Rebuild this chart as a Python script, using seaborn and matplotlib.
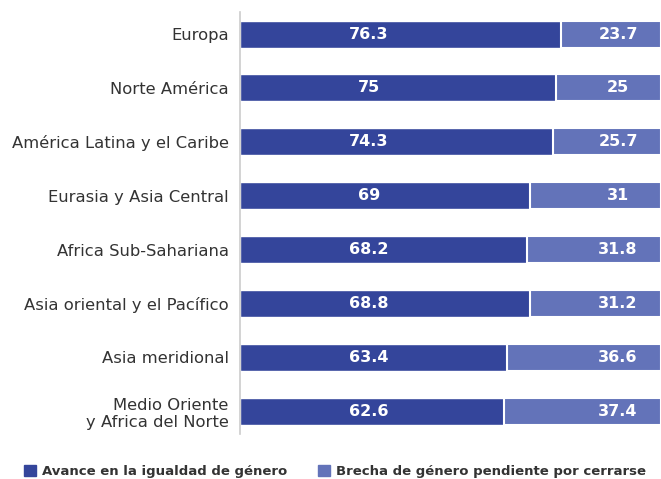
import numpy as np
import pandas as pd
import seaborn as sns
import matplotlib.pyplot as plt
from matplotlib.patches import Patch

regions = ["Europa", "Norte América", "América Latina y el Caribe",
           "Eurasia y Asia Central", "Africa Sub-Sahariana",
           "Asia oriental y el Pacífico", "Asia meridional",
           "Medio Oriente\ny Africa del Norte"]
avance = [76.3, 75, 74.3, 69, 68.2, 68.8, 63.4, 62.6]
brecha = [23.7, 25, 25.7, 31, 31.8, 31.2, 36.6, 37.4]

dark = "#34459b"
light = "#6373b9"

sns.set_style("white")
plt.rcParams['font.family'] = ['DejaVu Sans']

df = pd.DataFrame({"region": regions, "avance": avance, "brecha": brecha})

fig = plt.figure(figsize=(6.61, 4.79), dpi=100)
ax = fig.add_axes([0.363, 0.094, 0.637, 0.881])

sns.barplot(data=df, y="region", x="avance", color=dark, orient="h",
            width=0.5, ax=ax, saturation=1)
ax.barh(np.arange(len(regions)), df["brecha"], left=df["avance"],
        height=0.5, color=light, edgecolor="white", linewidth=1.5)

# value labels sit at fixed columns in the original
for i, (a, b) in enumerate(zip(avance, brecha)):
    ax.text(30.6, i, f"{a:g}", ha="center", va="center", color="white",
            fontsize=11.5, fontweight="bold")
    ax.text(89.8, i, f"{b:g}", ha="center", va="center", color="white",
            fontsize=11.5, fontweight="bold")

ax.set_xlim(0, 100)
ax.set_ylim(7.42, -0.41)
ax.set_xlabel("")
ax.set_ylabel("")
ax.set_xticks([])
ax.tick_params(axis="y", length=0, pad=8, labelsize=11.8, labelcolor="#333333")
for s in ["top", "right", "bottom"]:
    ax.spines[s].set_visible(False)
ax.spines["left"].set_color("#cccccc")
ax.spines["left"].set_linewidth(1.2)

handles = [Patch(color=dark, label="Avance en la igualdad de género"),
           Patch(color=light, label="Brecha de género pendiente por cerrarse")]
leg = fig.legend(handles=handles, loc="center left", bbox_to_anchor=(0.018, 0.016),
                 ncol=2, frameon=False, handlelength=0.9, handleheight=0.9,
                 handletextpad=0.5, columnspacing=2.3,
                 prop={"weight": "bold", "size": 9.5})
for t in leg.get_texts():
    t.set_color("#333333")

fig.savefig("out.png", dpi=100)
